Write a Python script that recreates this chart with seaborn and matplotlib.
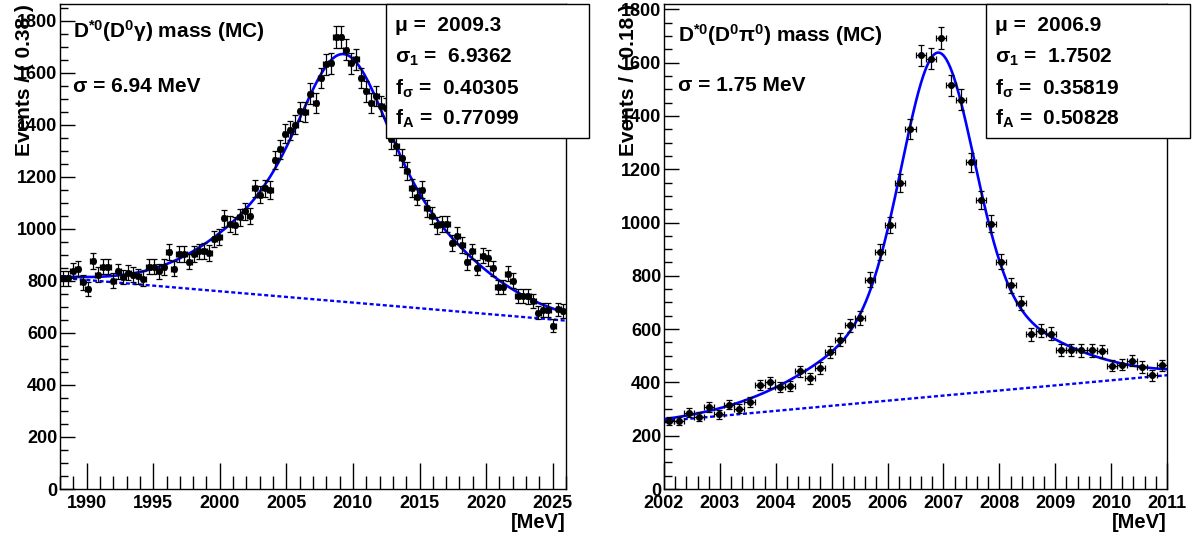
import numpy as np
import pandas as pd
import matplotlib
matplotlib.use("Agg")
import matplotlib.pyplot as plt
from matplotlib.ticker import MultipleLocator
from matplotlib.patches import Rectangle
import seaborn as sns

# ---------------- data ----------------
# D*0 -> D0 gamma : 100 bins of 0.38 MeV between 1988 and 2026
gamma_range = [1988.0, 2026.0]
gamma_counts = [
    810, 810, 838, 846, 794, 769, 877, 823, 854, 854,
    801, 836, 815, 832, 823, 817, 808, 855, 855, 836,
    853, 912, 846, 903, 903, 874, 903, 913, 915, 906,
    962, 967, 1041, 1018, 1013, 1045, 1067, 1049, 1155, 1131,
    1155, 1150, 1265, 1305, 1365, 1378, 1400, 1451, 1450, 1520,
    1483, 1579, 1633, 1637, 1736, 1736, 1688, 1637, 1651, 1579,
    1528, 1482, 1509, 1471, 1464, 1345, 1320, 1272, 1223, 1156,
    1124, 1151, 1079, 1050, 1013, 1019, 1019, 945, 974, 938,
    872, 913, 851, 897, 887, 849, 777, 777, 828, 801,
    742, 742, 740, 724, 678, 688, 688, 628, 690, 685,
]
gamma_bg_ends = [812, 647]          # background line at the two range edges
gamma_peak_height = 952             # signal height above background at mu
gamma_params = [2009.3, 6.9362, 0.40305, 0.77099]   # mu, sigma1, f_sigma, f_A
gamma_ylim = [0, 1864]

# D*0 -> D0 pi0 : 50 bins of 0.18 MeV between 2002 and 2011
pi0_range = [2002.0, 2011.0]
pi0_counts = [
    256, 255, 286, 271, 308, 281, 317, 301, 327, 390,
    400, 383, 387, 442, 416, 454, 514, 561, 614, 642,
    786, 889, 991, 1149, 1351, 1627, 1615, 1692, 1515, 1461,
    1226, 1085, 995, 853, 764, 699, 580, 593, 583, 521,
    521, 520, 520, 516, 463, 467, 482, 458, 427, 464,
]
pi0_bg_ends = [255, 427]
pi0_peak_height = 1289
pi0_params = [2006.9, 1.7502, 0.35819, 0.50828]
pi0_ylim = [0, 1820]

gamma_title = r"D$^{*0}$(D$^{0}$γ) mass (MC)"
pi0_title = r"D$^{*0}$(D$^{0}$π$^{0}$) mass (MC)"
gamma_sigma_text = "σ = 6.94 MeV"
pi0_sigma_text = "σ = 1.75 MeV"
gamma_ylabel = "Events / ( 0.38 )"
pi0_ylabel = "Events / ( 0.18 )"
stat_names = ["μ =  ", "σ$_{1}$ =  ", "f$_{σ}$ =  ", "f$_{A}$ =  "]
gamma_stat_values = ["2009.3", "6.9362", "0.40305", "0.77099"]
pi0_stat_values = ["2006.9", "1.7502", "0.35819", "0.50828"]

# ---------------- style ----------------
sns.set_theme(style="ticks")
plt.rcParams["font.family"] = ["Liberation Sans", "DejaVu Sans"]
plt.rcParams["font.weight"] = "bold"
plt.rcParams["mathtext.default"] = "regular"
plt.rcParams["axes.linewidth"] = 1.0
for key in ["text.color", "axes.labelcolor", "xtick.color", "ytick.color", "axes.edgecolor"]:
    plt.rcParams[key] = "black"

BLUE = "#0000ff"
W, H = 1196, 537
fig = plt.figure(figsize=(W / 100, H / 100), dpi=100)
fig.patch.set_facecolor("white")


def fit_curve(x, params, peak, bg_ends, xr):
    mu, s1, fs, fa = params
    s2 = s1 * fs
    g = fa / s1 * np.exp(-0.5 * ((x - mu) / s1) ** 2) + (1 - fa) / s2 * np.exp(-0.5 * ((x - mu) / s2) ** 2)
    g = g / (fa / s1 + (1 - fa) / s2)
    bg = bg_ends[0] + (bg_ends[1] - bg_ends[0]) * (x - xr[0]) / (xr[1] - xr[0])
    return bg + peak * g


def panel(rect, xr, counts, bg_ends, peak, params, ylim, title, sigma_text,
          ylabel, stat_values, xmaj, xmin_, box_rect, text_x, title_y):
    ax = fig.add_axes(rect)
    ax.set_facecolor("white")
    n = len(counts)
    w = (xr[1] - xr[0]) / n
    centers = xr[0] + w * (np.arange(n) + 0.5)
    df = pd.DataFrame({"mass": centers, "events": counts})
    df["err"] = np.sqrt(df["events"])

    # background (dotted)
    bg_df = pd.DataFrame({"mass": xr, "events": bg_ends})
    sns.lineplot(data=bg_df, x="mass", y="events", ax=ax, color=BLUE, lw=1.7,
                 estimator=None, sort=False, zorder=2)
    ax.lines[-1].set_linestyle((0, (1.7, 1.1)))

    # total fit
    xs = np.linspace(xr[0], xr[1], 800)
    fit_df = pd.DataFrame({"mass": xs, "events": fit_curve(xs, params, peak, bg_ends, xr)})
    sns.lineplot(data=fit_df, x="mass", y="events", ax=ax, color=BLUE, lw=1.9,
                 estimator=None, sort=False, zorder=3)

    # data points
    ax.errorbar(df["mass"], df["events"], xerr=w / 2, yerr=df["err"], fmt="none",
                ecolor="black", elinewidth=0.9, capsize=2.0, capthick=0.9, zorder=4)
    sns.scatterplot(data=df, x="mass", y="events", ax=ax, color="black", s=26,
                    linewidth=0, zorder=5)

    ax.set_xlim(xr)
    ax.set_ylim(ylim)
    ax.xaxis.set_major_locator(MultipleLocator(xmaj))
    ax.xaxis.set_minor_locator(MultipleLocator(xmin_))
    ax.yaxis.set_major_locator(MultipleLocator(200))
    ax.yaxis.set_minor_locator(MultipleLocator(50))
    ax.tick_params(axis="x", which="major", direction="in", length=19, width=1,
                   labelsize=13, pad=4, color="black", labelcolor="black")
    ax.tick_params(axis="x", which="minor", direction="in", length=9.5, width=1, color="black")
    ax.tick_params(axis="y", which="major", direction="in", length=11, width=1,
                   labelsize=13, pad=2, color="black", labelcolor="black")
    ax.tick_params(axis="y", which="minor", direction="in", length=5.5, width=1, color="black")
    for lab in ax.get_xticklabels() + ax.get_yticklabels():
        lab.set_fontweight("bold")
    for sp in ax.spines.values():
        sp.set_visible(True)
        sp.set_color("black")
        sp.set_linewidth(1.0)

    ax.set_xlabel("[MeV]", loc="right", fontsize=14.5, fontweight="bold", color="black")
    ax.xaxis.set_label_coords(1.0, -0.05)
    ax.set_ylabel(ylabel, loc="top", fontsize=15, fontweight="bold", color="black")
    ax.yaxis.set_label_coords(-0.052, 1.0)

    ax.text(text_x, title_y[0], title, transform=ax.transAxes, fontsize=15,
            fontweight="bold", ha="left", va="baseline", zorder=6, color="black")
    ax.text(text_x, title_y[1], sigma_text, transform=ax.transAxes, fontsize=15,
            fontweight="bold", ha="left", va="baseline", zorder=6, color="black")

    # stats box
    bx0, by0, bx1, by1 = box_rect
    ax.add_patch(Rectangle((bx0, by0), bx1 - bx0, by1 - by0, transform=ax.transAxes,
                           facecolor="white", edgecolor="black", lw=1.0,
                           clip_on=False, zorder=10))
    ys = [0.944, 0.878, 0.814, 0.751]
    for name, val, yy in zip(stat_names, stat_values, ys):
        ax.text(bx0 + 0.018, yy, name + val, transform=ax.transAxes, fontsize=15,
                fontweight="bold", ha="left", va="baseline", zorder=11, color="black")
    return ax


bottom = (H - 489) / H
height = 485 / H
panel([60 / W, bottom, 506 / W, height], gamma_range, gamma_counts, gamma_bg_ends,
      gamma_peak_height, gamma_params, gamma_ylim, gamma_title, gamma_sigma_text,
      gamma_ylabel, gamma_stat_values, 5, 1, (0.644, 0.724, 1.045, 1.0), 0.026,
      (0.931, 0.819))
panel([664 / W, bottom, 503 / W, height], pi0_range, pi0_counts, pi0_bg_ends,
      pi0_peak_height, pi0_params, pi0_ylim, pi0_title, pi0_sigma_text,
      pi0_ylabel, pi0_stat_values, 1, 0.2, (0.640, 0.724, 1.046, 1.0), 0.028,
      (0.922, 0.821))

fig.savefig("out.png", dpi=100, facecolor="white")
